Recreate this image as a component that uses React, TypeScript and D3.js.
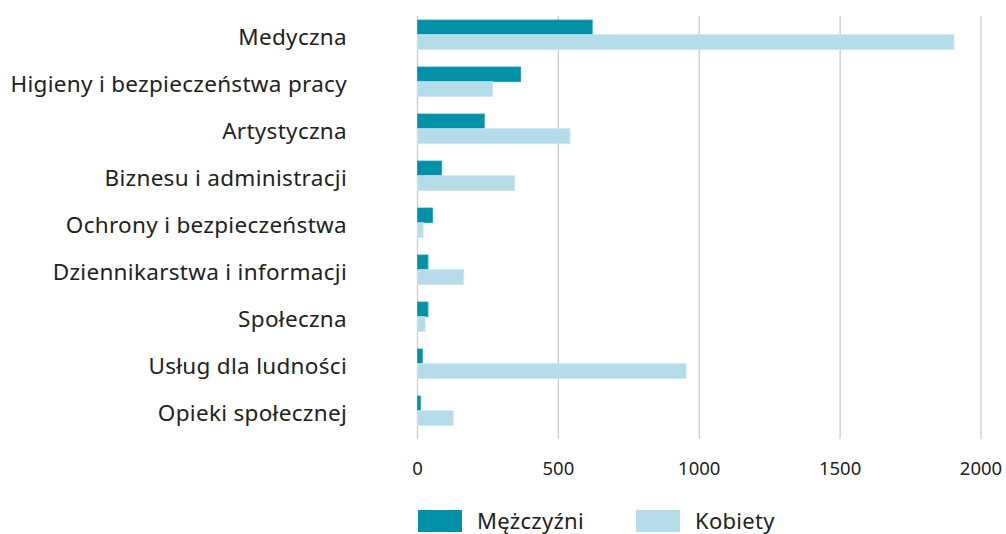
import React from "react";
import * as d3 from "d3";

const categories = [
  "Medyczna",
  "Higieny i bezpieczeństwa pracy",
  "Artystyczna",
  "Biznesu i administracji",
  "Ochrony i bezpieczeństwa",
  "Dziennikarstwa i informacji",
  "Społeczna",
  "Usług dla ludności",
  "Opieki społecznej",
];
const men = [620, 366, 237, 86, 53, 37, 37, 17, 10];
const women = [1904, 266, 541, 344, 20, 164, 27, 953, 127];
const xTicks = [0, 500, 1000, 1500, 2000];
const seriesNames = ["Mężczyźni", "Kobiety"];
const colors = ["#0090a8", "#b5dde9"];
const strokes = ["#1a9cb2", "#c9e7f0"];

const W = 1006;
const H = 534;
const FONT = "'Noto Sans', 'Open Sans', sans-serif";

export default function App() {
  const x = d3.scaleLinear().domain([0, 2000]).range([417.5, 981]);
  const y = d3
    .scaleBand<string>()
    .domain(categories)
    .range([11.2, 434.2])
    .paddingInner(0.375)
    .paddingOuter(0.1875);
  const bh = y.bandwidth() / 2;
  const series = [men, women];

  return (
    <svg
      width={W}
      height={H}
      style={{ position: "absolute", left: 0, top: 0, background: "#fff" }}
      fontFamily={FONT}
    >
      {xTicks.map((t) => (
        <line
          key={"g" + t}
          x1={x(t)}
          x2={x(t)}
          y1={16}
          y2={439}
          stroke="#cccccc"
          strokeWidth={1.3}
        />
      ))}
      {series.map((vals, si) =>
        categories.map((c, i) => (
          <rect
            key={si + "-" + c}
            x={x(0)}
            y={(y(c) as number) + si * bh}
            width={x(vals[i]) - x(0)}
            height={bh}
            fill={colors[si]}
            stroke={strokes[si]}
            strokeWidth={0.8}
          />
        ))
      )}
      {categories.map((c) => (
        <text
          key={"l" + c}
          x={347}
          y={(y(c) as number) + y.bandwidth() / 2 + 10.5}
          textAnchor="end"
          fontSize={22.5}
          letterSpacing={0.3}
          fill="#222"
        >
          {c}
        </text>
      ))}
      {xTicks.map((t) => (
        <text
          key={"t" + t}
          x={x(t)}
          y={475}
          textAnchor="middle"
          fontSize={18.5}
          fill="#222"
        >
          {t}
        </text>
      ))}
      {seriesNames.map((s, i) => {
        const lx = [418, 636][i];
        return (
          <g key={s}>
            <rect x={lx} y={510} width={44} height={22} fill={colors[i]} />
            <text x={lx + 59} y={529} fontSize={22} letterSpacing={0.3} fill="#222">
              {s}
            </text>
          </g>
        );
      })}
    </svg>
  );
}
